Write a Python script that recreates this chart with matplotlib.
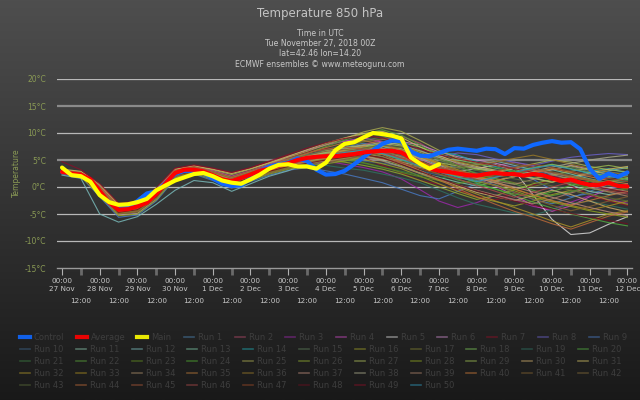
import numpy as np
import matplotlib
matplotlib.use("Agg")
import matplotlib.pyplot as plt
from matplotlib.lines import Line2D

# jours affichés sous l'axe (00:00 de chaque jour)
day_labels = ["27 Nov", "28 Nov", "29 Nov", "30 Nov", "1 Dec", "2 Dec", "3 Dec", "4 Dec",
              "5 Dec", "6 Dec", "7 Dec", "8 Dec", "9 Dec", "10 Dec", "11 Dec", "12 Dec"]
y_ticks = [-15, -10, -5, 0, 5, 10, 15, 20]

# Control / Average : pas de 6h du 27 Nov 00Z au 12 Dec 00Z
control = [2.8, 2.4, 2.2, 1.2, -0.9, -3.0, -4.0, -3.9, -2.6, -1.2, -0.8, 0.8, 2.4, 3.0, 3.0, 2.6,
           1.6, 0.6, 0.2, 0.3, 1.6, 3.0, 3.8, 4.2, 4.5, 5.3, 4.8, 3.2, 2.3, 2.4, 3.0, 4.2,
           5.5, 6.8, 8.0, 8.6, 8.5, 6.6, 5.8, 5.7, 6.3, 6.9, 7.1, 6.9, 6.7, 7.1, 7.0, 6.1,
           7.2, 7.1, 7.8, 8.2, 8.5, 8.2, 8.3, 7.0, 3.4, 1.5, 2.5, 1.9, 2.7]
average = [2.8, 2.5, 2.3, 1.4, -0.7, -2.9, -4.2, -4.1, -3.6, -2.9, -1.3, 0.7, 2.6, 3.2, 3.2, 2.9,
           2.2, 1.4, 1.1, 1.7, 2.3, 3.0, 3.4, 4.0, 4.4, 5.0, 5.4, 5.6, 5.7, 5.7, 5.9, 6.1,
           6.4, 6.6, 6.7, 6.7, 6.4, 5.4, 4.4, 3.4, 3.0, 2.8, 2.5, 2.2, 2.1, 2.4, 2.6, 2.4,
           2.4, 2.1, 2.4, 2.2, 1.6, 1.1, 1.4, 0.8, 0.4, 0.4, 0.8, 0.2, 0.1]
# Main : pas de 6h, s'arrête le 7 Dec 00Z
main = [3.6, 2.2, 2.0, 1.0, -1.5, -2.8, -3.3, -3.2, -2.8, -2.2, -0.6, 0.3, 1.2, 1.8, 2.4, 2.6,
        2.0, 1.2, 0.8, 0.6, 1.4, 2.3, 3.4, 4.1, 4.2, 3.8, 3.8, 3.4, 4.5, 6.8, 8.0, 8.3,
        9.2, 10.0, 9.8, 9.5, 9.0, 5.5, 4.3, 3.4, 4.2]

# Run 1..50 : pas de 12h
runs = [
    [3.0, 2.5, -0.2, -3.8, -3.4, -0.8, 2.9, 3.6, 2.5, 1.6, 2.8, 4.1, 5.2, 6.0, 6.6, 7.4, 8.1, 7.6, 6.2, 4.5, 3.1, 2.0, 1.2, 0.4, -1.0, -2.3, -3.1, -2.0, -0.8, 0.5, 1.2],
    [2.6, 2.1, -1.2, -4.8, -4.5, -1.9, 2.2, 2.9, 1.8, 0.5, 1.6, 2.9, 3.8, 5.1, 6.3, 7.0, 7.8, 8.8, 9.4, 8.1, 6.0, 4.2, 3.5, 3.9, 4.6, 3.8, 2.2, 1.0, 0.6, 1.8, 2.5],
    [2.9, 2.4, -0.5, -4.0, -3.9, -1.5, 2.4, 3.0, 2.0, 0.9, 2.1, 3.6, 4.6, 5.2, 4.8, 4.2, 3.6, 2.8, 1.5, -0.5, -2.6, -3.8, -2.9, -1.5, -2.4, -3.6, -4.2, -2.8, -1.6, -2.3, -3.0],
    [3.1, 2.7, 0.2, -3.5, -3.0, -0.6, 3.1, 3.8, 3.0, 2.0, 3.0, 4.2, 5.6, 6.8, 7.8, 8.5, 9.1, 8.3, 6.7, 5.2, 3.6, 2.1, 1.5, 0.2, -1.6, -3.4, -4.5, -3.5, -1.8, -0.4, 0.6],
    [2.7, 2.2, -0.9, -4.5, -3.8, -1.4, 2.5, 3.3, 2.3, 1.0, 2.0, 3.1, 4.0, 4.8, 5.5, 6.2, 5.8, 5.0, 4.6, 3.9, 3.2, 2.8, 3.4, 4.1, 3.0, -1.5, -6.0, -8.8, -8.5, -6.9, -5.5],
    [2.5, 2.0, -1.5, -5.2, -4.9, -2.3, 1.8, 2.7, 1.5, 0.2, 1.4, 2.6, 3.5, 4.0, 4.6, 5.3, 6.2, 7.5, 8.4, 7.8, 6.5, 5.6, 5.0, 4.4, 3.6, 2.5, 3.2, 4.0, 3.3, 2.1, 1.4],
    [3.2, 2.8, 0.4, -3.3, -2.8, -0.2, 3.4, 4.0, 3.4, 2.6, 3.5, 4.6, 5.8, 6.5, 7.2, 6.6, 5.4, 4.0, 2.6, 1.2, 0.5, -0.6, -1.8, -2.4, -1.2, 0.4, 1.3, 0.2, -1.5, -2.6, -3.4],
    [2.8, 2.3, -0.6, -4.1, -3.5, -1.2, 2.7, 3.4, 2.4, 1.3, 2.5, 3.3, 4.3, 5.0, 5.9, 6.4, 7.0, 6.5, 5.8, 5.0, 5.6, 6.3, 6.0, 5.2, 4.6, 4.0, 4.8, 5.5, 5.9, 6.2, 6.0],
    [2.4, 1.9, -1.8, -5.6, -5.2, -2.6, 1.5, 2.4, 1.2, -0.2, 1.0, 2.2, 3.1, 3.6, 3.0, 2.4, 1.6, 0.8, -0.4, -1.6, -2.2, -0.8, 0.6, 1.8, 2.6, 1.4, -0.5, -1.8, -1.2, -0.4, 0.3],
    [3.0, 2.6, 0.0, -3.7, -3.2, -0.9, 2.8, 3.5, 2.7, 1.8, 2.9, 4.0, 5.0, 5.7, 6.0, 5.5, 4.8, 4.4, 3.9, 3.0, 2.2, 1.6, 2.4, 3.3, 3.8, 3.0, 2.2, 1.5, 2.1, 2.8, 2.4],
    [2.6, 2.2, -1.0, -4.6, -4.0, -1.6, 2.3, 3.1, 2.0, 0.7, 1.9, 3.2, 4.1, 4.6, 5.2, 6.0, 6.8, 7.5, 7.1, 5.9, 4.1, 2.6, 1.8, 1.2, 1.9, 2.8, 1.6, 0.4, -0.8, -1.4, -0.9],
    [2.2, 1.6, -5.0, -6.5, -5.5, -3.2, -0.6, 1.2, 0.8, -0.8, 0.6, 2.0, 3.0, 4.4, 5.8, 6.6, 7.2, 7.6, 6.8, 5.4, 4.0, 3.6, 4.2, 4.8, 4.0, 3.2, 2.5, 1.9, 2.4, 3.0, 3.6],
    [2.9, 2.5, -0.4, -3.9, -3.3, -1.0, 2.7, 3.3, 2.3, 1.2, 2.4, 3.5, 4.7, 5.5, 6.2, 6.7, 6.0, 4.9, 3.8, 2.6, 1.8, 0.9, 0.2, 1.0, 2.1, 2.7, 3.2, 2.4, 1.5, 0.8, 1.6],
    [2.7, 2.3, -0.8, -4.3, -3.7, -1.3, 2.6, 3.2, 2.2, 1.1, 2.2, 3.4, 4.5, 5.3, 6.4, 7.2, 7.6, 6.8, 5.5, 5.8, 6.6, 5.9, 4.7, 3.8, 2.6, 1.7, 0.9, 1.8, 2.9, 3.4, 2.6],
    [3.0, 2.4, -0.3, -3.6, -3.1, -0.8, 3.0, 3.7, 2.8, 1.6, 2.7, 3.8, 4.9, 5.9, 6.9, 7.8, 8.6, 9.3, 8.5, 6.9, 5.0, 3.5, 2.6, 2.0, 2.6, 3.4, 4.2, 3.7, 2.8, 2.0, 1.3],
    [2.5, 2.0, -1.4, -5.0, -4.6, -2.0, 2.0, 2.8, 1.6, 0.3, 1.5, 2.7, 3.6, 4.2, 4.9, 5.5, 5.1, 4.3, 3.4, 2.0, 0.6, -0.8, -1.9, -2.7, -3.5, -2.6, -1.4, -0.6, -1.3, -2.4, -3.2],
    [2.8, 2.4, -0.7, -4.2, -3.6, -1.2, 2.6, 3.2, 2.1, 1.0, 2.1, 3.3, 4.4, 5.4, 6.5, 7.6, 8.4, 8.9, 8.0, 6.1, 4.6, 3.1, 2.2, 1.6, 0.8, 0.1, 0.9, 1.7, 1.2, 0.3, -0.4],
    [3.1, 2.6, -0.1, -3.6, -3.2, -1.0, 2.9, 3.5, 2.6, 1.5, 2.6, 3.7, 4.8, 5.6, 6.4, 7.1, 7.5, 7.9, 8.2, 7.4, 6.2, 5.0, 4.3, 3.5, 2.9, 3.6, 4.2, 3.4, 2.6, 2.0, 1.5],
    [2.6, 2.1, -1.1, -4.6, -4.2, -1.7, 2.2, 2.9, 1.9, 0.6, 1.8, 3.0, 3.9, 4.3, 4.0, 3.5, 3.1, 2.4, 1.7, 0.8, -0.6, -2.0, -3.2, -4.0, -4.8, -5.2, -4.2, -3.1, -2.6, -3.4, -4.1],
    [2.9, 2.5, -0.5, -4.0, -3.5, -1.1, 2.7, 3.4, 2.4, 1.4, 2.5, 3.6, 4.6, 5.1, 5.6, 6.3, 6.9, 6.1, 5.0, 3.7, 2.4, 1.3, 0.5, -0.4, -1.6, -2.8, -3.9, -5.0, -5.8, -6.6, -7.2],
    [2.7, 2.2, -0.9, -4.4, -3.9, -1.5, 2.4, 3.1, 2.0, 0.8, 2.0, 3.1, 4.2, 4.9, 5.4, 5.0, 4.4, 3.6, 2.9, 2.2, 1.6, 2.3, 3.1, 3.6, 3.0, 2.3, 1.6, 0.8, 0.0, 0.7, 1.2],
    [3.0, 2.5, -0.4, -3.8, -3.3, -0.9, 2.8, 3.4, 2.6, 1.5, 2.6, 3.8, 5.0, 6.2, 7.5, 8.7, 9.8, 10.6, 9.6, 7.8, 5.6, 3.9, 2.4, 1.5, 0.6, -0.6, -1.6, -0.9, 0.2, 1.0, 1.7],
    [2.8, 2.4, -0.6, -4.1, -3.5, -1.2, 2.6, 3.3, 2.2, 1.1, 2.3, 3.4, 4.4, 5.2, 5.8, 5.3, 4.5, 3.7, 2.7, 1.9, 1.2, 0.6, 1.4, 2.3, 2.9, 2.2, 1.4, 0.6, -0.2, -0.9, -0.3],
    [2.6, 2.1, -1.2, -4.8, -4.3, -1.9, 2.1, 2.8, 1.7, 0.5, 1.7, 2.8, 3.7, 4.4, 5.1, 5.9, 6.6, 7.0, 6.2, 4.8, 3.3, 2.0, 0.8, -0.4, -1.3, -1.8, -0.9, 0.3, 1.1, 0.5, -0.2],
    [3.2, 2.8, 0.3, -3.4, -2.9, -0.4, 3.2, 3.9, 3.2, 2.3, 3.3, 4.4, 5.5, 6.6, 7.8, 9.0, 10.2, 11.0, 10.3, 8.6, 6.8, 5.3, 4.5, 4.0, 3.4, 2.8, 3.3, 3.9, 3.1, 2.4, 1.8],
    [2.7, 2.3, -0.8, -4.3, -3.8, -1.4, 2.5, 3.2, 2.2, 1.0, 2.1, 3.2, 4.2, 4.7, 5.0, 4.6, 4.0, 3.3, 2.4, 1.2, 0.0, -1.2, -2.3, -1.6, -0.5, 0.6, 1.4, 2.0, 1.4, 0.6, 0.0],
    [2.9, 2.5, -0.5, -4.0, -3.4, -1.1, 2.7, 3.4, 2.4, 1.3, 2.4, 3.5, 4.6, 5.6, 6.7, 7.3, 7.8, 7.2, 6.3, 5.4, 4.5, 3.9, 3.3, 2.8, 3.5, 4.3, 5.0, 4.6, 3.8, 3.2, 2.8],
    [2.5, 2.0, -1.6, -5.3, -5.0, -2.4, 1.7, 2.6, 1.4, 0.0, 1.2, 2.4, 3.3, 3.9, 4.3, 4.8, 5.5, 6.1, 5.3, 4.2, 3.0, 1.9, 1.0, 0.3, -0.7, -1.9, -2.8, -3.6, -4.4, -5.0, -5.6],
    [3.0, 2.6, -0.2, -3.7, -3.1, -0.8, 2.9, 3.6, 2.7, 1.7, 2.8, 3.9, 5.0, 5.8, 6.3, 6.8, 7.4, 8.0, 7.6, 6.4, 5.1, 4.0, 3.4, 3.0, 2.3, 1.6, 2.2, 2.9, 3.5, 4.0, 3.4],
    [2.8, 2.3, -0.7, -4.2, -3.6, -1.3, 2.6, 3.2, 2.2, 1.1, 2.2, 3.3, 4.3, 4.9, 5.3, 5.8, 6.3, 5.6, 4.4, 3.0, 1.5, 0.2, -1.0, -1.8, -2.5, -1.6, -0.6, -1.4, -2.6, -3.8, -4.6],
    [3.3, 2.9, 0.5, -3.2, -2.7, -0.3, 3.3, 3.9, 3.3, 2.5, 3.4, 4.5, 5.7, 6.9, 8.1, 9.1, 9.9, 10.3, 9.2, 7.4, 5.8, 4.6, 3.8, 3.1, 2.4, 1.6, 0.9, 1.7, 2.6, 3.3, 3.8],
    [2.6, 2.2, -1.1, -4.6, -4.1, -1.6, 2.3, 3.0, 1.9, 0.6, 1.8, 3.0, 3.9, 4.5, 4.9, 5.4, 5.9, 5.3, 4.0, 2.5, 1.2, 0.0, -1.3, -2.6, -3.8, -5.0, -6.3, -7.4, -6.2, -5.0, -4.4],
    [2.9, 2.4, -0.6, -4.0, -3.4, -1.1, 2.7, 3.3, 2.3, 1.2, 2.3, 3.5, 4.5, 5.3, 6.0, 6.6, 7.1, 7.6, 7.0, 5.7, 4.4, 3.2, 2.1, 1.0, -0.3, -1.5, -2.5, -3.4, -4.2, -3.5, -2.6],
    [2.7, 2.3, -0.8, -4.3, -3.8, -1.4, 2.5, 3.1, 2.1, 0.9, 2.0, 3.2, 4.2, 4.9, 5.6, 6.1, 5.7, 5.1, 4.3, 3.6, 3.0, 2.4, 1.7, 1.1, 0.5, 1.4, 2.3, 1.5, 0.6, -0.2, -0.8],
    [3.1, 2.6, -0.1, -3.6, -3.1, -0.7, 3.0, 3.7, 2.8, 1.7, 2.8, 4.0, 5.1, 6.2, 7.3, 8.2, 8.6, 7.9, 6.8, 5.6, 4.2, 2.9, 1.8, 0.7, -0.4, -1.5, -2.6, -3.3, -2.5, -1.6, -0.8],
    [2.6, 2.1, -1.2, -4.8, -4.3, -1.8, 2.1, 2.9, 1.8, 0.5, 1.6, 2.8, 3.8, 4.6, 5.2, 5.7, 6.2, 6.9, 7.4, 6.6, 5.4, 4.7, 4.0, 4.6, 5.3, 5.9, 5.1, 4.2, 3.5, 2.8, 2.2],
    [2.8, 2.4, -0.6, -4.1, -3.6, -1.2, 2.6, 3.3, 2.3, 1.2, 2.3, 3.4, 4.5, 5.1, 5.5, 6.0, 6.6, 7.1, 6.4, 5.2, 3.8, 2.6, 1.6, 0.8, 0.0, -0.9, -1.9, -2.9, -3.8, -4.6, -5.3],
    [3.0, 2.5, -0.3, -3.8, -3.2, -0.9, 2.8, 3.5, 2.5, 1.4, 2.5, 3.7, 4.8, 5.7, 6.5, 7.2, 7.7, 8.3, 7.8, 6.7, 5.5, 4.4, 3.6, 2.9, 2.2, 2.9, 3.7, 4.4, 5.0, 5.5, 5.9],
    [2.7, 2.2, -0.9, -4.4, -3.9, -1.5, 2.4, 3.1, 2.0, 0.8, 1.9, 3.1, 4.1, 4.5, 4.8, 5.2, 5.6, 4.8, 3.7, 2.5, 1.4, 0.4, -0.6, -1.5, -2.3, -3.1, -2.2, -1.1, -0.1, -0.9, -1.7],
    [2.9, 2.5, -0.5, -4.0, -3.4, -1.0, 2.8, 3.4, 2.5, 1.4, 2.5, 3.6, 4.7, 5.4, 6.1, 6.9, 7.5, 6.8, 5.6, 4.4, 3.4, 2.6, 1.8, 1.2, 1.9, 2.7, 3.4, 2.7, 1.9, 1.2, 0.6],
    [2.5, 2.1, -1.4, -5.0, -4.6, -2.1, 1.9, 2.7, 1.6, 0.3, 1.5, 2.6, 3.5, 4.1, 4.6, 5.1, 5.8, 6.4, 5.9, 4.8, 3.6, 2.5, 1.4, 0.2, -1.0, -2.2, -3.4, -4.4, -3.6, -2.6, -1.8],
    [3.0, 2.6, -0.3, -3.7, -3.2, -0.8, 2.9, 3.6, 2.7, 1.6, 2.7, 3.9, 5.0, 5.9, 6.6, 7.0, 6.4, 5.6, 4.7, 3.9, 3.1, 3.6, 4.3, 4.9, 4.3, 3.5, 2.8, 2.1, 1.4, 0.8, 0.3],
    [2.8, 2.3, -0.7, -4.2, -3.7, -1.3, 2.5, 3.2, 2.2, 1.0, 2.2, 3.3, 4.3, 5.0, 5.7, 6.4, 7.2, 7.8, 7.3, 6.2, 5.1, 4.0, 3.1, 2.2, 1.5, 0.9, 0.2, -0.6, -1.4, -2.0, -2.6],
    [2.6, 2.2, -1.0, -4.5, -4.0, -1.6, 2.3, 3.0, 1.9, 0.7, 1.9, 3.0, 4.0, 4.8, 5.6, 6.2, 6.7, 6.0, 4.6, 3.0, 1.4, -0.3, -1.8, -3.2, -4.5, -5.6, -6.8, -7.8, -6.6, -5.4, -4.6],
    [3.1, 2.7, 0.0, -3.5, -3.0, -0.6, 3.1, 3.8, 2.9, 1.9, 3.0, 4.1, 5.3, 6.3, 7.0, 7.4, 7.0, 6.3, 5.4, 4.5, 3.7, 3.0, 2.4, 1.8, 2.5, 3.2, 2.6, 1.9, 1.2, 0.5, -0.1],
    [2.7, 2.3, -0.8, -4.3, -3.8, -1.4, 2.5, 3.1, 2.1, 0.9, 2.0, 3.2, 4.2, 5.0, 5.8, 6.5, 7.0, 6.4, 5.3, 4.1, 2.8, 1.5, 0.3, -0.8, -1.9, -1.0, 0.0, 0.9, 0.2, -0.7, -1.3],
    [2.9, 2.4, -0.6, -4.0, -3.5, -1.2, 2.7, 3.3, 2.3, 1.2, 2.4, 3.5, 4.5, 5.2, 5.9, 6.3, 6.0, 5.3, 4.5, 3.4, 2.4, 1.5, 2.2, 3.0, 3.6, 4.2, 3.6, 2.9, 2.2, 1.6, 1.0],
    [2.6, 2.1, -1.2, -4.7, -4.2, -1.8, 2.2, 2.9, 1.8, 0.6, 1.7, 2.9, 3.8, 4.4, 5.0, 5.5, 6.0, 5.4, 4.2, 2.9, 1.6, 0.4, -0.7, -1.7, -2.6, -3.4, -4.1, -4.9, -5.6, -6.2, -6.8],
    [4.7, 3.2, 0.6, -3.0, -2.6, -0.2, 3.5, 4.1, 3.5, 2.7, 3.6, 4.8, 6.0, 7.2, 8.2, 9.0, 9.5, 9.1, 8.2, 7.0, 6.0, 5.2, 4.6, 4.0, 3.4, 2.7, 2.0, 1.2, 0.4, -0.4, -1.0],
    [2.8, 2.3, -0.7, -4.1, -3.6, -1.2, 2.6, 3.2, 2.2, 1.1, 2.2, 3.4, 4.4, 5.1, 5.8, 6.4, 6.8, 6.2, 5.1, 3.9, 2.8, 1.8, 1.0, 1.8, 2.7, 3.5, 4.0, 3.3, 2.5, 1.8, 2.2],
]

run_colors = ["#4a82b0", "#b04868", "#9a28a8", "#c848c0", "#d8d8d8", "#c888c8", "#901028", "#6a60c8",
              "#4878c0", "#3c6488", "#88c0a8", "#78b8b8", "#78c0a0", "#20a8b0", "#5a7858", "#9a9a28",
              "#7a7a30", "#78c058", "#2e7060", "#50a840", "#3a7a40", "#58a038", "#608a20", "#50a830",
              "#a8a850", "#8ea830", "#a8b858", "#8aa020", "#98b850", "#c8a868", "#c8b860", "#a89028",
              "#a88a20", "#a88a68", "#b87838", "#987828", "#b88878", "#a8a888", "#a88068", "#c87838",
              "#806030", "#806838", "#586838", "#b86838", "#a85838", "#a84848", "#984828", "#6a1020",
              "#881028", "#3098b8"]

h6 = np.arange(len(control)) * 6
h12 = np.arange(len(runs[0])) * 12

fig = plt.figure(figsize=(6.4, 4.0), dpi=100)

# fond en dégradé
bg = fig.add_axes([0, 0, 1, 1], zorder=-10)
grad = np.linspace(0, 1, 256).reshape(-1, 1)
top = np.array([0x4e, 0x4e, 0x4e]) / 255
bot = np.array([0x19, 0x19, 0x19]) / 255
img = top + (bot - top) * grad[:, :, None]
bg.imshow(img, aspect="auto", extent=[0, 1, 0, 1])
bg.axis("off")

ax = fig.add_axes([57 / 640, 1 - 268 / 400, 575 / 640, (268 - 79) / 400])
ax.set_facecolor("none")
ax.set_xlim(-3.2, 362.9)
ax.set_ylim(-15, 20)

for v in y_ticks[1:]:
    if v in (5, 15):
        ax.axhline(v, color="#8a8a8a", lw=1.6, zorder=1)
    else:
        ax.axhline(v, color="#b8b8b8", lw=0.9, zorder=1)

for i, r in enumerate(runs):
    ax.plot(h12, r, color=run_colors[i], lw=0.8, alpha=0.85, zorder=2)
ax.plot(h6, control, color="#1068ff", lw=3, zorder=3, solid_capstyle="round")
ax.plot(h6, average, color="#ff0000", lw=3, zorder=4, solid_capstyle="round")
ax.plot(h6[:len(main)], main, color="#ffff00", lw=3, zorder=5, solid_capstyle="round")

for s in ["left", "right", "top"]:
    ax.spines[s].set_visible(False)
ax.spines["bottom"].set_color("#9a9a9a")
ax.spines["bottom"].set_linewidth(1)

ax.set_xticks(np.arange(0, 361, 24))
ax.set_xticklabels(["00:00\n" + d for d in day_labels])
ax.set_xticks(np.arange(12, 360, 24), minor=True)
ax.set_xticklabels(["12:00"] * 15, minor=True)
ax.tick_params(axis="x", which="major", direction="out", length=5, width=0.8, color="#b0b0b0",
               labelsize=5.2, labelcolor="#c8c8c8", pad=2)
ax.tick_params(axis="x", which="minor", direction="out", length=5, width=2, color="#6a6a6a",
               labelsize=5.2, labelcolor="#c8c8c8", pad=16.5)
for t in ax.get_xticklabels(which="both"):
    t.set_linespacing(1.55)
ax.set_yticks(y_ticks)
ax.set_yticklabels([str(v) + "°C" for v in y_ticks])
ax.tick_params(axis="y", length=0, pad=8, labelsize=5.5, labelcolor="#8a9a55")

fig.text(16 / 640, 1 - 173 / 400, "Temperature", rotation=90, ha="center", va="center",
         fontsize=5.5, color="#8a9a55")

# titres
fig.text(0.5, 1 - 13 / 400, "Temperature 850 hPa", ha="center", va="center", fontsize=8.5, color="#c4c4c4")
sub = ["Time in UTC", "Tue November 27, 2018 00Z", "lat=42.46 lon=14.20",
       "ECMWF ensembles © www.meteoguru.com"]
for k, t in enumerate(sub):
    fig.text(0.5, 1 - (33 + 10.4 * k) / 400, t, ha="center", va="center", fontsize=5.6, color="#c8c8c8")

# légende (dessinée à la main)
names = ["Control", "Average", "Main"] + ["Run " + str(i) for i in range(1, 51)]
cols = ["#1068ff", "#ff0000", "#ffff00"] + run_colors
widths = [3, 3, 3] + [1.2] * 50
pos = []
row1_x = [20, 77, 137, 184, 235, 285, 336, 387, 437, 487, 538, 589]
for x in row1_x:
    pos.append((x, 337))
for k in range(41):
    pos.append((20 + 55.8 * (k % 11), 349 + 12 * (k // 11)))
for k, (x, y) in enumerate(pos):
    a = 0.9 if k < 3 else 0.5
    fig.add_artist(Line2D([x / 640, (x + 10) / 640], [1 - y / 400, 1 - y / 400], color=cols[k],
                          lw=widths[k], alpha=a))
    fig.text((x + 14) / 640, 1 - y / 400, names[k], ha="left", va="center", fontsize=6,
             color="#3e3e3e")

fig.savefig("out.png", dpi=100)
